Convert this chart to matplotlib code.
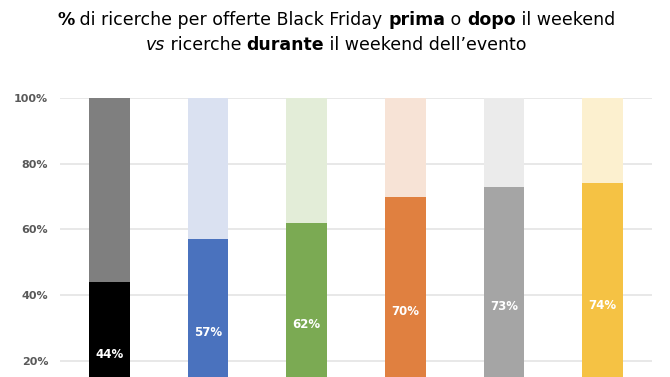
import matplotlib
matplotlib.use("Agg")
import matplotlib.pyplot as plt

categories = ["A", "B", "C", "D", "E", "F"]
durante = [44, 57, 62, 70, 73, 74]
totale = [100, 100, 100, 100, 100, 100]
bottom_colors = ["#000000", "#4A72BE", "#7BAA53", "#E08040", "#A5A5A5", "#F5C244"]
top_colors = ["#7F7F7F", "#DAE1F1", "#E3EDD8", "#F7E3D6", "#EBEBEB", "#FCF0CF"]
yticks = [20, 40, 60, 80, 100]
ytick_labels = ["20%", "40%", "60%", "80%", "100%"]

W, H = 670, 377
fig = plt.figure(figsize=(W / 100, H / 100), dpi=100)
ax = fig.add_axes([60 / W, 0, 592 / W, (377 - 98) / H])
x = list(range(len(categories)))
rest = [t - d for t, d in zip(totale, durante)]
ax.bar(x, durante, width=0.41, color=bottom_colors, zorder=3)
ax.bar(x, rest, bottom=durante, width=0.41, color=top_colors, zorder=3)
for xi, v in zip(x, durante):
    ax.text(xi, v / 2, f"{v}%", ha="center", va="center", color="white",
            fontsize=8.5, fontweight="bold", zorder=4)
ax.set_xlim(-0.5, 5.5)
ax.set_ylim(15.1, 100)
ax.set_yticks(yticks)
ax.set_yticklabels(ytick_labels, fontsize=8, fontweight="bold", color="#595959")
ax.tick_params(axis="y", length=0, pad=8.5)
ax.set_xticks([])
ax.grid(axis="y", color="#E6E6E6", linewidth=1.3, zorder=0)
for s in ax.spines.values():
    s.set_visible(False)

# Title with mixed weights
fs = 12.5
lines = [
    [("%", "bold", "normal"), (" di ricerche per offerte Black Friday ", "normal", "normal"),
     ("prima", "bold", "normal"), (" o ", "normal", "normal"), ("dopo", "bold", "normal"),
     (" il weekend", "normal", "normal")],
    [("vs", "normal", "italic"), (" ricerche ", "normal", "normal"), ("durante", "bold", "normal"),
     (" il weekend dell\u2019evento", "normal", "normal")],
]
ys = [1 - 20 / H, 1 - 45 / H]
fig.canvas.draw()
r = fig.canvas.get_renderer()
for parts, yy in zip(lines, ys):
    texts = []
    for s, w, st in parts:
        t = fig.text(0, yy, s, fontsize=fs, fontweight=w, fontstyle=st,
                     va="center", ha="left", color="black")
        texts.append(t)
    widths = [t.get_window_extent(r).width for t in texts]
    total = sum(widths)
    x0 = 336 - total / 2
    for t, wdt in zip(texts, widths):
        t.set_x(x0 / W)
        x0 += wdt

fig.savefig("out.png", dpi=100)
